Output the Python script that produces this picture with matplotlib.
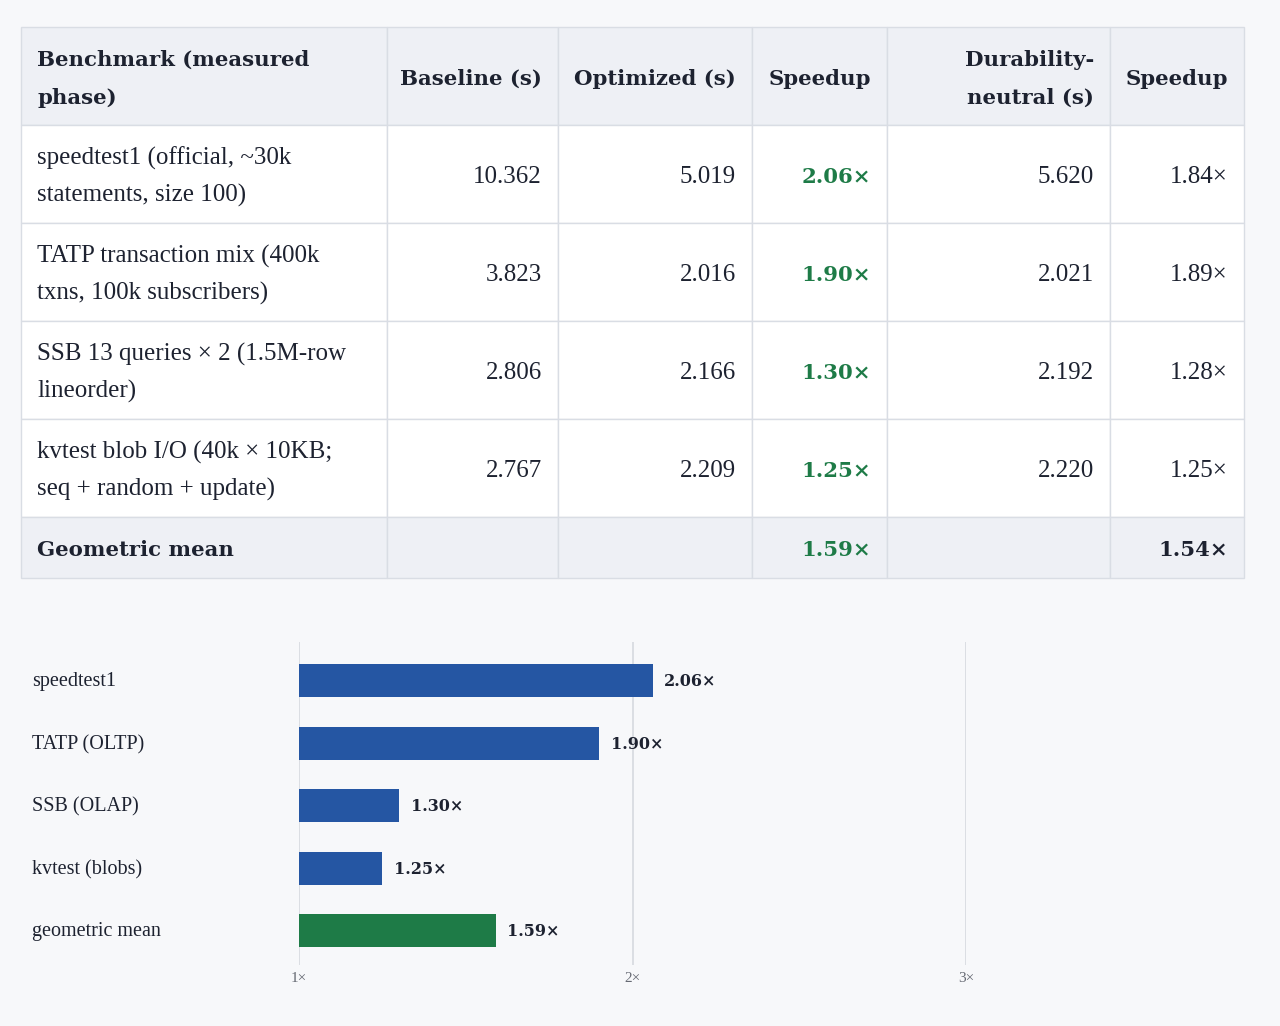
import matplotlib.pyplot as plt
from matplotlib.patches import Rectangle
from matplotlib.transforms import blended_transform_factory

# dati della tabella
headers = ["Benchmark (measured\nphase)", "Baseline (s)", "Optimized (s)", "Speedup",
           "Durability-\nneutral (s)", "Speedup"]
benchmarks = ["speedtest1 (official, ~30k\nstatements, size 100)",
              "TATP transaction mix (400k\ntxns, 100k subscribers)",
              "SSB 13 queries \u00d7 2 (1.5M-row\nlineorder)",
              "kvtest blob I/O (40k \u00d7 10KB;\nseq + random + update)"]
baseline = [10.362, 3.823, 2.806, 2.767]
optimized = [5.019, 2.016, 2.166, 2.209]
speedup = [2.06, 1.90, 1.30, 1.25]
neutral = [5.620, 2.021, 2.192, 2.220]
neutral_speedup = [1.84, 1.89, 1.28, 1.25]
geo_label = "Geometric mean"
geo_speedup = 1.59
geo_neutral = 1.54

# dati del grafico
chart_labels = ["speedtest1", "TATP (OLTP)", "SSB (OLAP)", "kvtest (blobs)", "geometric mean"]
chart_values = speedup + [geo_speedup]
xticks = [1, 2, 3]

# colori
BG = "#f7f8fa"
HEAD_BG = "#eef0f5"
BORDER = "#d9dde4"
INK = "#1d2230"
GREEN = "#1e7b47"
BLUE = "#2556a3"

REG = ['Liberation Serif', 'DejaVu Serif']
BOLD = ['DejaVu Serif']
plt.rcParams['font.family'] = REG

fig = plt.figure(figsize=(12.8, 10.26), dpi=100, facecolor=BG)

# tabella disegnata in coordinate pixel
tab = fig.add_axes([0, 0, 1, 1])
tab.set_xlim(0, 1280)
tab.set_ylim(1026, 0)
tab.axis("off")

col_x = [21, 387, 558, 752, 887, 1110, 1244]
row_y = [27, 125, 223, 321, 419, 517, 578]
pad = 16

rows = []
for i in range(len(benchmarks)):
    rows.append([
        (benchmarks[i], "normal", INK),
        (f"{baseline[i]:.3f}", "normal", INK),
        (f"{optimized[i]:.3f}", "normal", INK),
        (f"{speedup[i]:.2f}\u00d7", "bold", GREEN),
        (f"{neutral[i]:.3f}", "normal", INK),
        (f"{neutral_speedup[i]:.2f}\u00d7", "normal", INK),
    ])
rows.append([
    (geo_label, "bold", INK), ("", "normal", INK), ("", "normal", INK),
    (f"{geo_speedup:.2f}\u00d7", "bold", GREEN), ("", "normal", INK),
    (f"{geo_neutral:.2f}\u00d7", "bold", INK),
])

all_rows = [[(h, "bold", INK) for h in headers]] + rows
for r, cells in enumerate(all_rows):
    y0, y1 = row_y[r], row_y[r + 1]
    yc = (y0 + y1) / 2 + 3
    fill = HEAD_BG if (r == 0 or r == len(all_rows) - 1) else "white"
    for c, (txt, weight, color) in enumerate(cells):
        x0, x1 = col_x[c], col_x[c + 1]
        tab.add_patch(Rectangle((x0, y0), x1 - x0, y1 - y0, facecolor=fill,
                                edgecolor=BORDER, linewidth=1))
        if c == 0:
            tx, ha = x0 + pad, "left"
        else:
            tx, ha = x1 - pad, "right"
        if weight == "bold":
            tab.text(tx, yc, txt, ha=ha, va="center", fontsize=15.3,
                     fontweight="bold", family=BOLD, color=color, linespacing=2.1,
                     multialignment=ha)
        else:
            tab.text(tx, yc, txt, ha=ha, va="center", fontsize=18,
                     color=color, linespacing=1.8, multialignment=ha)

# grafico a barre
ax = fig.add_axes([299 / 1280, (1026 - 965) / 1026, (966 - 299) / 1280, (965 - 642) / 1026])
ax.set_facecolor(BG)
ypos = list(range(len(chart_labels)))
colors = [BLUE] * (len(chart_labels) - 1) + [GREEN]
ax.barh(ypos, [v - 1 for v in chart_values], left=1, height=0.53, color=colors)
for y, v in zip(ypos, chart_values):
    ax.text(v + 0.035, y + 0.02, f"{v:.2f}\u00d7", va="center", ha="left", fontsize=11.5,
            fontweight="bold", family=BOLD, color=INK)
lab_tr = blended_transform_factory(fig.transFigure, ax.transData)
for y, lab in zip(ypos, chart_labels):
    ax.text(32 / 1280, y + 0.02, lab, transform=lab_tr, va="center", ha="left",
            fontsize=14.5, color=INK)

ax.set_xlim(1, 3)
ax.set_ylim(4.55, -0.62)
ax.set_xticks(xticks)
ax.set_xticklabels([f"{t}\u00d7" for t in xticks], fontsize=11, color="#666a73")
ax.set_yticks([])
ax.tick_params(axis="x", length=0, pad=5)
for t in xticks:
    ax.axvline(t, color="#d6d9df", linewidth=1.2, zorder=0)
for s in ax.spines.values():
    s.set_visible(False)

fig.savefig("out.png", dpi=100, facecolor=BG)
